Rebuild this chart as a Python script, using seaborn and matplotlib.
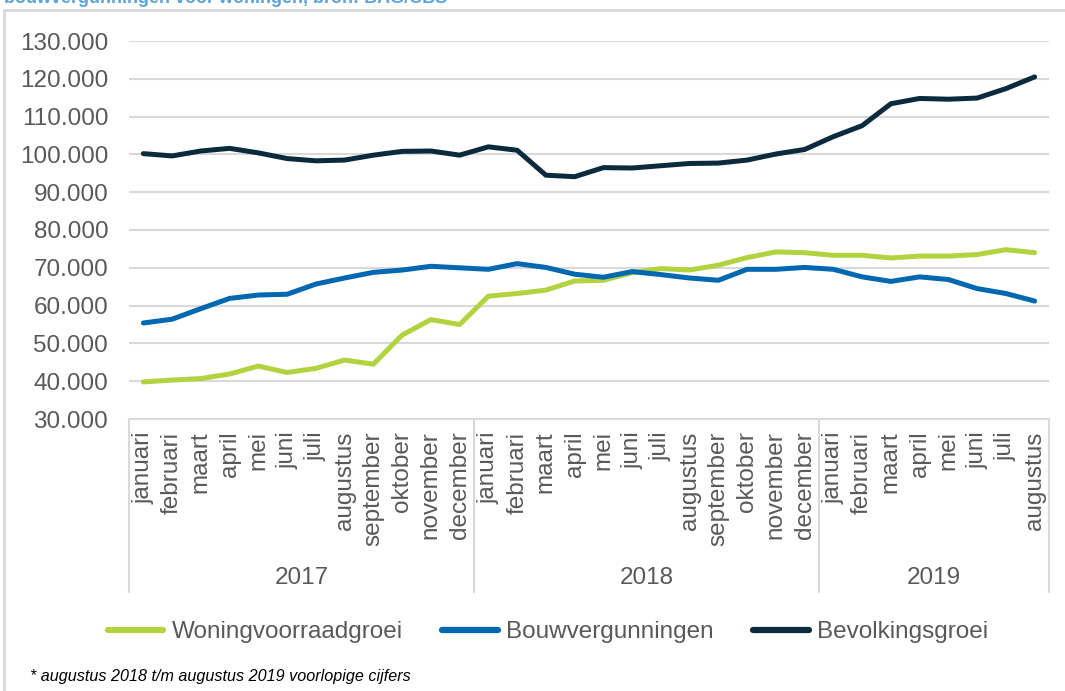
import numpy as np
import pandas as pd
import matplotlib
matplotlib.use("Agg")
import matplotlib.pyplot as plt
import matplotlib.patches as mpatches
import seaborn as sns

MONTHS = ["januari", "februari", "maart", "april", "mei", "juni", "juli", "augustus",
          "september", "oktober", "november", "december"]
YEARS = ["2017", "2018", "2019"]
MONTH_LABELS = MONTHS + MONTHS + MONTHS[:8]

woningvoorraad = [39.8, 40.3, 40.7, 41.9, 44.0, 42.3, 43.4, 45.6, 44.5, 52.2, 56.3, 55.0,
                  62.5, 63.2, 64.1, 66.5, 66.7, 68.7, 69.8, 69.4, 70.7, 72.7, 74.2, 74.0,
                  73.3, 73.3, 72.6, 73.1, 73.1, 73.5, 74.8, 74.0]
bouwvergunningen = [55.4, 56.4, 59.2, 61.9, 62.8, 63.0, 65.7, 67.3, 68.8, 69.4, 70.4, 70.0,
                    69.6, 71.1, 70.1, 68.3, 67.5, 69.0, 68.2, 67.3, 66.7, 69.6, 69.6, 70.1,
                    69.6, 67.6, 66.4, 67.6, 66.9, 64.5, 63.2, 61.2]
bevolking = [100.2, 99.6, 100.9, 101.6, 100.4, 98.9, 98.3, 98.5, 99.8, 100.8, 100.9, 99.8,
             102.0, 101.1, 94.5, 94.1, 96.5, 96.4, 97.0, 97.6, 97.7, 98.5, 100.1, 101.3,
             104.7, 107.6, 113.4, 114.8, 114.6, 114.9, 117.4, 120.5]

SERIES = ["Woningvoorraadgroei", "Bouwvergunningen", "Bevolkingsgroei"]
COLORS = ["#B2D33F", "#0068B0", "#0C2A3E"]

n = len(MONTH_LABELS)
df = pd.DataFrame({
    "idx": np.tile(np.arange(n), 3),
    "waarde": np.array(woningvoorraad + bouwvergunningen + bevolking) * 1000,
    "reeks": np.repeat(SERIES, n),
})

sns.set_theme(style="white")
plt.rcParams["font.family"] = ["Liberation Sans", "DejaVu Sans"]

W, H = 1065, 691
fig = plt.figure(figsize=(W / 100, H / 100), dpi=100)
ax = fig.add_axes([129 / W, 1 - 419 / H, 920 / W, 378 / H])

sns.lineplot(data=df, x="idx", y="waarde", hue="reeks", hue_order=SERIES,
             palette=COLORS, linewidth=3.6, solid_capstyle="round", legend=False, ax=ax)

FS = 17.5
ax.set_xlim(-0.5, n - 0.5)
ax.set_ylim(30000, 130000)
yt = np.arange(30000, 130001, 10000)
ax.set_yticks(yt)
ax.set_yticklabels([f"{v:,}".replace(",", ".") for v in yt])
ax.set_xticks(range(n))
ax.set_xticklabels(MONTH_LABELS, rotation=90, va="top", ha="center")
ax.tick_params(axis="y", length=0, pad=15, labelsize=FS, labelcolor="#595959")
ax.tick_params(axis="x", length=0, pad=9, labelsize=FS, labelcolor="#595959")
ax.grid(axis="y", color="#D9D9D9", linewidth=1.5)
ax.set_axisbelow(True)
for s in ["top", "left", "right"]:
    ax.spines[s].set_visible(False)
ax.spines["bottom"].set_color("#D9D9D9")
ax.spines["bottom"].set_linewidth(1.5)
ax.set_xlabel("")
ax.set_ylabel("")

# year grouping below month labels
trans = ax.get_xaxis_transform()
bottom = -173 / 378
for xb in [-0.5, 11.5, 23.5, n - 0.5]:
    ax.plot([xb, xb], [0, bottom], transform=trans, color="#D9D9D9", linewidth=1.5, clip_on=False)
starts = [0, 12, 24]
ends = [12, 24, n]
for yr, a, b in zip(YEARS, starts, ends):
    ax.text((a + b - 1) / 2, -159 / 378, yr, transform=trans, ha="center", va="center",
            fontsize=FS, color="#595959")

# legend
handles = [plt.Line2D([], [], color=c, linewidth=4.5, solid_capstyle="round") for c in COLORS]
fig.legend(handles, SERIES, loc="center", bbox_to_anchor=(548 / W, 1 - 632 / H), ncol=3,
           frameon=False, fontsize=FS, handlelength=2.3, handletextpad=0.35,
           columnspacing=1.6, labelcolor="#595959")

# footnote
fig.text(30 / W, 1 - 676 / H, "* augustus 2018 t/m augustus 2019 voorlopige cijfers",
         fontsize=11.6, style="italic", color="#000000", ha="left", va="center")

# cut-off title (as in the source) and outer frame
fig.text(4 / W, 1 - 3 / H, "bouwvergunningen voor woningen, bron: BAG/CBS",
         fontsize=13, fontweight="bold", color="#5BA3DA", ha="left", va="baseline")
fig.patches.append(mpatches.Rectangle((4 / W, -0.1), 1.2, 1.1 - 10 / H, transform=fig.transFigure,
                                      fill=False, edgecolor="#D9D9D9", linewidth=2))

fig.savefig("out.png", dpi=100)
